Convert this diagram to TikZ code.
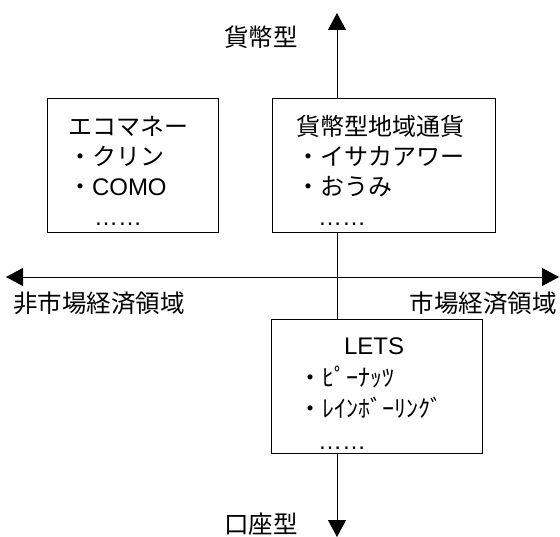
\documentclass[tikz,border=0pt]{standalone}
\usepackage{fontspec}
\setmainfont{Noto Sans CJK JP}
\newfontfamily\latin{Liberation Sans}
\usetikzlibrary{arrows.meta}
\newcommand{\toppad}{\rule{0pt}{31pt}}

\begin{document}
\begin{tikzpicture}[x=1pt, y=1pt,
	quadbox/.style={draw, fill=white, line width=0.8pt, align=left, minimum height=134pt, font=\fontsize{24}{30}\selectfont},
	axislabel/.style={inner sep=0pt, font=\fontsize{24.5}{29}\selectfont},
	axis/.style={line width=0.8pt, {Triangle[length=17pt,width=18pt]}-{Triangle[length=17pt,width=18pt]}}]
	\useasboundingbox (0,0) rectangle (560,-537);
	
	%--- axes
	\coordinate (n) at (337,-13);
	\coordinate (s) at (337,-537);
	\coordinate (w) at (6,-277);
	\coordinate (e) at (559,-277);
	\draw[axis] (w) -- (e);
	\draw[axis] (s) -- (n);
	
	%--- axis labels
	\node[axislabel] (ktop) at (261,-37) {貨幣型};
	\node[axislabel] (kbot) at (261,-524) {口座型};
	\node[axislabel, anchor=west] (nonmkt) at (13,-303) {非市場経済領域};
	\node[axislabel, anchor=east] (mkt) at (557,-303) {市場経済領域};
	
	%--- boxes
	\node[quadbox, text width=129pt, inner xsep=21pt] (eco) at (132.5,-165) {\toppad エコマネー\\・クリン\\・{\latin COMO}\\\hspace*{26pt}{\latin ……}};
	\node[quadbox, text width=175pt, inner xsep=24pt] (kahei) at (383.5,-165.5) {\toppad 貨幣型地域通貨\\・イサカアワー\\・おうみ\\\hspace*{22pt}{\latin ……}};
	\node[quadbox, text width=157pt, inner xsep=27pt, font=\fontsize{24}{31.5}\selectfont] (lets) at (376.5,-386.5) {\toppad\hspace*{46pt}{\latin LETS}\\・ﾋﾟｰﾅｯﾂ\\・ﾚｲﾝﾎﾞｰﾘﾝｸﾞ\\\hspace*{20pt}{\latin ……}};
\end{tikzpicture}
\end{document}
